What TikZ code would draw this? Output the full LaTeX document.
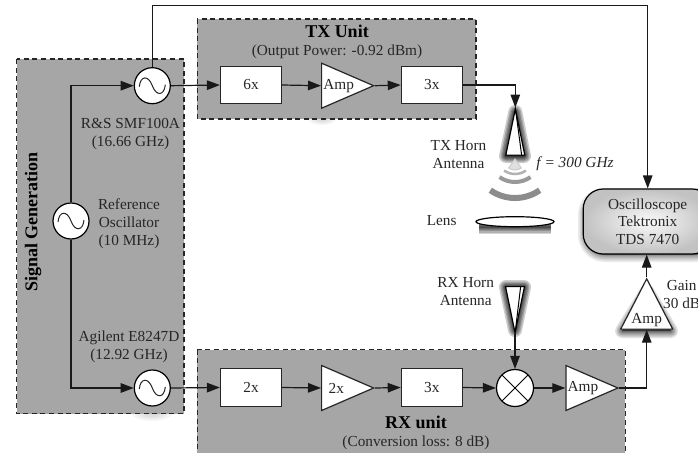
\documentclass[tikz,border=0pt]{standalone}
\usepackage{fontspec}
\setmainfont{Liberation Serif}
\usetikzlibrary{arrows.meta,shapes.geometric,calc}
\definecolor{boxgray}{HTML}{A6A6A6}
\newcommand{\glowpath}[3]{%
  \foreach \w in {14,11,8.5,6,4,2}{%
    \draw[shift={#1},line width=\w pt,black,opacity=#2,line join=round,fill=black,fill opacity=#2] #3;}}
\tikzset{
  x=1pt,y=-1pt,
  txt/.style={font=\fontsize{15.3}{18}\selectfont,align=center,inner sep=0pt,text=black!85},
  ttl/.style={font=\fontsize{18}{20}\selectfont\bfseries,align=center,inner sep=0pt},
  group/.style={draw=black!85,fill=boxgray,line width=1.3pt,dash pattern=on 5pt off 3.6pt},
  blockbox/.style={draw=black!85,fill=white,line width=1.2pt,minimum width=61pt,minimum height=37.5pt,inner sep=0pt,txt},
  ampr/.style={draw=black!85,fill=white,line width=1.2pt,isosceles triangle,isosceles triangle stretches,minimum width=45pt,minimum height=52pt,inner sep=0pt,anchor=lower side,txt},
  ampu/.style={draw=black!85,fill=white,line width=1.2pt,isosceles triangle,isosceles triangle stretches,shape border rotate=90,minimum width=52pt,minimum height=45pt,inner sep=0pt,anchor=lower side,txt},
  hornu/.style={draw=black,fill=white,line width=1.2pt,isosceles triangle,isosceles triangle stretches,shape border rotate=90,minimum width=19pt,minimum height=46pt,inner sep=0pt,anchor=lower side},
  hornd/.style={draw=black,fill=white,line width=1.2pt,isosceles triangle,isosceles triangle stretches,shape border rotate=-90,minimum width=19pt,minimum height=46pt,inner sep=0pt,anchor=lower side},
  osc/.style={draw=black,fill=white,line width=1.2pt,circle,minimum size=36pt,inner sep=0pt,
    path picture={\draw[line width=1pt,black!85] ($(path picture bounding box.center)+(-13,1)$)
      .. controls +(1,-11) and +(-4,-11) .. ($(path picture bounding box.center)$)
      .. controls +(4,11) and +(-1,11) .. ($(path picture bounding box.center)+(13,-1)$);}},
  mix/.style={draw=black,fill=white,line width=1.2pt,circle,minimum size=37pt,inner sep=0pt,
    path picture={\draw[line width=1pt] (path picture bounding box.north west)--(path picture bounding box.south east)
      (path picture bounding box.north east)--(path picture bounding box.south west);}},
  conn/.style={draw=black!90,line width=1.2pt,-{Triangle[length=13pt,width=9.5pt]},shorten >=0pt},
  wave/.style={draw=black!45,line cap=butt},
}
\begin{document}
\begin{tikzpicture}
\useasboundingbox (0,0) rectangle (698,452);
\clip (0,0) rectangle (698,452);
\foreach \r in {1,.8,.6,.4}{
  \fill[black,opacity=.035] (152,414) ellipse ({20*\r} and {7*\r});
  \fill[black,opacity=.035] (322,119) ellipse ({14*\r} and {6*\r});
}
\draw[group] (16.7,59) rectangle (184,413.7);
\draw[group] (197.3,19) rectangle (476,119);
\draw[group] (197.3,349.7) rectangle (625.3,470);
% shadows
\glowpath{(0,0)}{.2}{(515.3,112) -- (524,156) -- (506,156) -- cycle}
\glowpath{(0,0)}{.2}{(515,330) -- (524,287) -- (506,287) -- cycle}
\glowpath{(0,5)}{.17}{(479,222) -- (551,222)}
\glowpath{(0,3)}{.12}{(622,328) -- (647,288) -- (671,328) -- cycle}
\glowpath{(0,3)}{.08}{[rounded corners=20pt] (585,192) rectangle (715,252)}
% blocks
\node[osc] (oscref) at (71,221) {};
\node[osc] (osctx) at (152.3,85.7) {};
\node[osc] (oscrx) at (152.3,388) {};
\node[blockbox] (txa) at (251,85) {6x};
\node[ampr] (txb) at (321,85.7) {Amp};
\node[blockbox] (txc) at (431.8,85) {3x};
\node[blockbox] (rxa) at (251,387.5) {2x};
\node[ampr] (rxb) at (321,388) {2x};
\node[blockbox] (rxc) at (431.8,387.5) {3x};
\node[mix] (mixer) at (515,388) {};
\node[ampr] (rxd) at (565.3,388) {Amp};
\node[ampu] (gain) at (646.7,329.7) {\raisebox{3pt}{Amp}};
\node[hornu] (txhorn) at (515.3,155.7) {};
\node[hornd] (rxhorn) at (515,286) {};
\draw[line width=1pt] (txhorn.apex) -- (521.7,155.7);
\draw[line width=1pt] (rxhorn.apex) -- (520.7,286);
\node[draw=black,fill=white,line width=1.2pt,ellipse,minimum width=78pt,minimum height=10pt,inner sep=0pt] (lens) at (515,221.7) {};
\node[draw=black,line width=1.2pt,rounded corners=20pt,inner color=gray!4,outer color=gray!48,minimum width=129pt,minimum height=65pt,inner sep=0pt,txt,font=\fontsize{15.3}{17.6}\selectfont] (scope) at (647.7,221.5) {Oscilloscope\\Tektronix\\TDS 7470};
% waves
\draw[wave,line width=6pt] (125:43) ++(515,155) arc[start angle=125,end angle=55,radius=43];
\draw[wave,line width=4pt,draw=black!40] (125:27) ++(515,155) arc[start angle=125,end angle=55,radius=27];
\draw[wave,line width=2.5pt,draw=black!30] (125:19) ++(515,155) arc[start angle=125,end angle=55,radius=19];
\draw[wave,line width=1pt,draw=black!20,fill=black!12] (515,159) -- ++(125:11) arc[start angle=125,end angle=55,radius=11] -- cycle;
% connectors
\coordinate (topleft) at (152.3,5.7);
\draw[conn] (oscref.north) |- (osctx.west);
\draw[conn] (oscref.south) |- (oscrx.west);
\draw[conn] (osctx.north) -- (topleft) -| (scope.north);
\draw[conn] (osctx.east) -- (txa.west);
\draw[conn] (txa.east) -- (txb.lower side);
\draw[conn] (txb.apex) -- (txc.west);
\draw[conn] (txc.east) -| (txhorn.apex);
\draw[conn] (oscrx.east) -- (rxa.west);
\draw[conn] (rxa.east) -- (rxb.lower side);
\draw[conn] (rxb.apex) -- (rxc.west);
\draw[conn] (rxc.east) -- (mixer.west);
\draw[conn] (mixer.east) -- (rxd.lower side);
\draw[conn] (rxhorn.apex) -- (mixer.north);
\draw[conn] (rxd.apex) -| (gain.lower side);
\draw[conn] (gain.apex) -- (gain.apex |- scope.south);
% labels
\node[ttl] (ltx) at (337,31) {TX Unit};
\node[txt] (ltxs) at (337,51.5) {(Output Power: -0.92 dBm)};
\node[ttl] (lrx) at (416,422.7) {RX unit};
\node[txt] (lrxs) at (416,443) {(Conversion loss: 8 dB)};
\node[ttl,rotate=90] (lsig) at (33,222) {Signal Generation};
\node[txt] (l1) at (130.5,134.5) {R\&S SMF100A\\(16.66 GHz)};
\node[txt] (l2) at (129,223.5) {Reference\\Oscillator\\(10 MHz)};
\node[txt] (l3) at (129,346.5) {Agilent E8247D\\(12.92 GHz)};
\node[txt] (l4) at (458.5,154.5) {TX Horn\\Antenna};
\node[txt,font=\fontsize{15.3}{18}\selectfont\itshape] (l5) at (575,163.5) {f = 300 GHz};
\node[txt] (l6) at (441.7,221) {Lens};
\node[txt] (l7) at (465.7,291.5) {RX Horn\\Antenna};
\node[txt] (l8) at (681.7,295) {Gain\\30 dB};
\end{tikzpicture}
\end{document}
